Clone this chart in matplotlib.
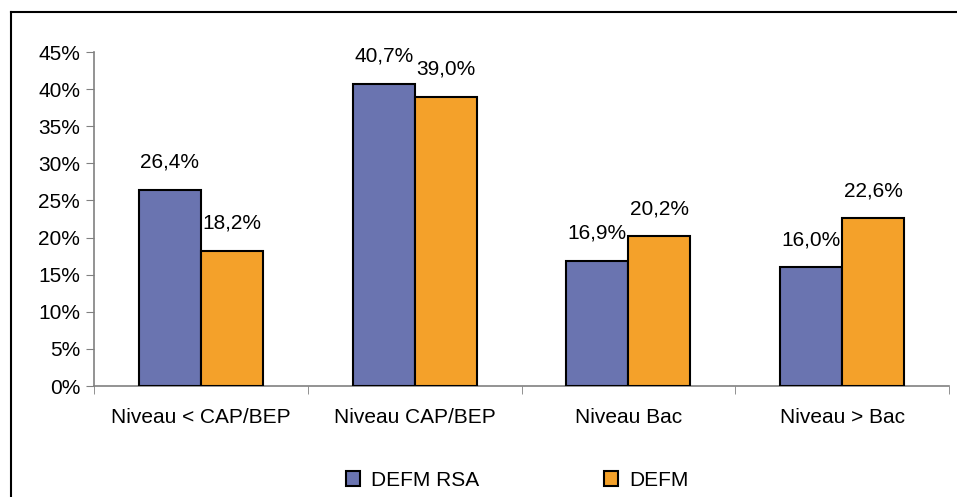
import matplotlib
matplotlib.use('Agg')
import matplotlib.pyplot as plt
import numpy as np
from matplotlib.lines import Line2D
from matplotlib.patches import Patch

# Données
categories = ['Niveau < CAP/BEP', 'Niveau CAP/BEP', 'Niveau Bac', 'Niveau > Bac']
defm_rsa = [26.4, 40.7, 16.9, 16.0]
defm = [18.2, 39.0, 20.2, 22.6]
series_names = ['DEFM RSA', 'DEFM']
couleurs = ['#6A74B0', '#F4A12A']

plt.rcParams['font.family'] = ['Liberation Sans', 'DejaVu Sans']
fs = 15

W, H = 957, 497
fig = plt.figure(figsize=(W / 100, H / 100), dpi=100)
ax = fig.add_axes([94 / W, 1 - 386 / H, (949 - 94) / W, (386 - 52) / H])

x = np.arange(len(categories))
largeur = 0.29
for i, (vals, nom) in enumerate(zip([defm_rsa, defm], series_names)):
    pos = x + (i - 0.5) * largeur
    ax.bar(pos, vals, width=largeur, color=couleurs[i], edgecolor='black',
           linewidth=1.5, label=nom, zorder=3)
    for p, v in zip(pos, vals):
        ax.annotate(f'{v:.1f}%'.replace('.', ','), (p, v), xytext=(0, 13),
                    textcoords='offset points', ha='center', va='bottom',
                    fontsize=fs)

ax.set_xlim(-0.5, len(categories) - 0.5)
ax.set_ylim(0, 45)
ax.set_yticks(range(0, 46, 5))
ax.set_yticklabels([f'{t}%' for t in range(0, 46, 5)], fontsize=fs)
ax.set_xticks(x)
ax.set_xticklabels(categories, fontsize=fs)
ax.set_xticks(np.arange(-0.5, len(categories)), minor=True)
ax.tick_params(axis='x', which='major', length=0, pad=16)
ax.tick_params(axis='x', which='minor', length=6, color='#808080', direction='out')
ax.tick_params(axis='y', length=6, color='#808080', direction='out', pad=4)

for s in ['top', 'right']:
    ax.spines[s].set_visible(False)
for s in ['left', 'bottom']:
    ax.spines[s].set_color('#808080')
    ax.spines[s].set_linewidth(1.2)

handles = [Patch(facecolor=couleurs[i], edgecolor='black', linewidth=1.5)
           for i in range(2)]
fig.legend(handles, series_names, loc='center', bbox_to_anchor=(517 / W, 1 - 480 / H),
           ncol=2, frameon=False, fontsize=fs, handlelength=0.7, handleheight=0.7,
           columnspacing=6.0, handletextpad=0.5)

# Cadre extérieur
fig.add_artist(Line2D([11 / W, 1.0], [1 - 12 / H, 1 - 12 / H], color='black', lw=1.5))
fig.add_artist(Line2D([11 / W, 11 / W], [0, 1 - 12 / H], color='black', lw=1.5))

fig.savefig('out.png', dpi=100)
